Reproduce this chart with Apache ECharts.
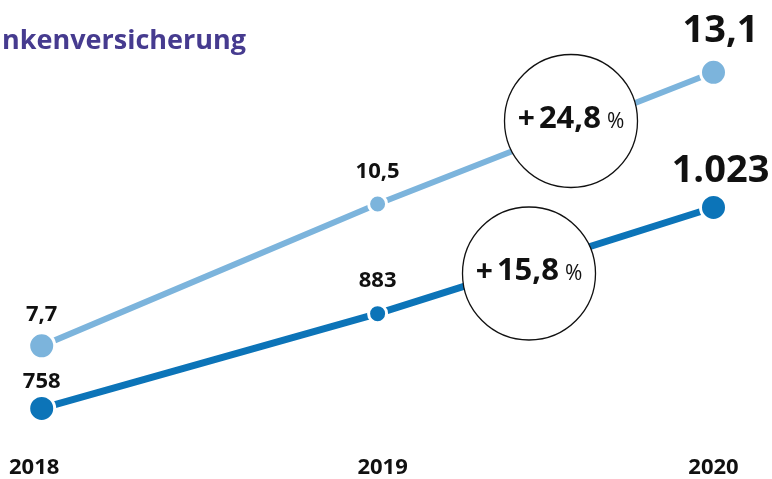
<!DOCTYPE html>
<html>
<head>
<meta charset="utf-8">
<script src="https://cdn.jsdelivr.net/npm/echarts@6/dist/echarts.min.js"></script>
<style>
  html, body { margin: 0; padding: 0; background: #fff; }
  #chart { width: 772px; height: 479px; }
</style>
</head>
<body>
<div id="chart"></div>
<script>
// ---- data ----
const years = ['2018', '2019', '2020'];
const seriesLight = [7.7, 10.5, 13.1];      // light blue line
const seriesDark = [758, 883, 1023];        // dark blue line
const growthLabels = ['24,8', '15,8'];      // growth 2019 -> 2020 (light, dark)
const titleText = 'nkenversicherung';

// ---- styling ----
const FONT = '"Open Sans", "Noto Sans", sans-serif';
const LIGHT = '#7cb4dc';
const DARK = '#0c74b8';
const INK = '#111111';

function fmtDe(v) {
  const s = String(v);
  if (s.indexOf('.') >= 0) return s.replace('.', ',');
  return s.replace(/\B(?=(\d{3})+(?!\d))/g, '.');
}

const last = years.length - 1;
function buildItems(values, distances) {
  return values.map((v, i) => {
    const isEnd = (i === 0 || i === last);
    const big = (i === last);
    return {
      value: v,
      symbolSize: isEnd ? 26 : 18,
      label: {
        show: true,
        position: 'top',
        distance: distances[i],
        offset: big ? [7, 0] : [0, 0],
        fontSize: big ? 38 : 22,
        fontWeight: 'bold',
        fontFamily: FONT,
        color: INK,
        formatter: p => fmtDe(p.value)
      }
    };
  });
}

const yearPad = [[0, 15, 0, 0], [0, 0, 0, 10], [0, 0, 0, 0]];

const chart = echarts.init(document.getElementById('chart'), null, { renderer: 'canvas' });

function circleAnno(cx, cy, txt) {
  return {
    type: 'group',
    z: 100,
    children: [
      { type: 'circle', shape: { cx: cx, cy: cy, r: 66.5 },
        style: { fill: '#ffffff', stroke: INK, lineWidth: 1.3 }, z: 100 },
      { type: 'text', z: 101,
        style: {
          x: cx, y: cy - 2,
          text: '{p|+}{n|' + txt + '}{q|%}',
          align: 'center', verticalAlign: 'middle',
          rich: {
            p: { fontSize: 30, fontWeight: 'bold', fontFamily: FONT, fill: INK, color: INK, verticalAlign: 'bottom', padding: [0, 4, 0, 0] },
            n: { fontSize: 31, fontWeight: 'bold', fontFamily: FONT, fill: INK, color: INK, verticalAlign: 'bottom' },
            q: { fontSize: 21, fontWeight: 'normal', fontFamily: FONT, fill: INK, color: INK, verticalAlign: 'bottom', padding: [0, 0, 2, 6] }
          }
        }
      }
    ]
  };
}

chart.setOption({
  animation: false,
  backgroundColor: '#ffffff',
  title: {
    text: titleText,
    left: -3,
    top: 23,
    textStyle: { fontFamily: FONT, fontSize: 27, fontWeight: 'bold', color: '#463b8f' }
  },
  grid: { left: 41.7, right: 58.5, top: 52, bottom: 45 },
  xAxis: {
    type: 'category',
    data: years,
    boundaryGap: false,
    axisLine: { show: false },
    axisTick: { show: false },
    splitLine: { show: false },
    axisLabel: {
      margin: 25,
      formatter: (v, i) => '{y' + i + '|' + v + '}',
      rich: {
        y0: { fontSize: 22, fontWeight: 'bold', fontFamily: FONT, color: INK, padding: yearPad[0] },
        y1: { fontSize: 22, fontWeight: 'bold', fontFamily: FONT, color: INK, padding: yearPad[1] },
        y2: { fontSize: 22, fontWeight: 'bold', fontFamily: FONT, color: INK, padding: yearPad[2] }
      }
    }
  },
  yAxis: [
    { type: 'value', min: 6, max: 13.5, show: false, splitLine: { show: false } },
    { type: 'value', min: 727, max: 1228, show: false, splitLine: { show: false } }
  ],
  series: [
    {
      type: 'line',
      yAxisIndex: 0,
      data: buildItems(seriesLight, [6, 11, 8]),
      symbol: 'circle',
      lineStyle: { color: LIGHT, width: 6 },
      itemStyle: { color: LIGHT, borderColor: '#ffffff', borderWidth: 3 },
      z: 3
    },
    {
      type: 'line',
      yAxisIndex: 1,
      data: buildItems(seriesDark, [1, 11, 3]),
      symbol: 'circle',
      lineStyle: { color: DARK, width: 7 },
      itemStyle: { color: DARK, borderColor: '#ffffff', borderWidth: 3 },
      z: 4
    }
  ],
  graphic: [
    circleAnno(571, 121, growthLabels[0]),
    circleAnno(529, 273.5, growthLabels[1])
  ]
});
</script>
</body>
</html>
